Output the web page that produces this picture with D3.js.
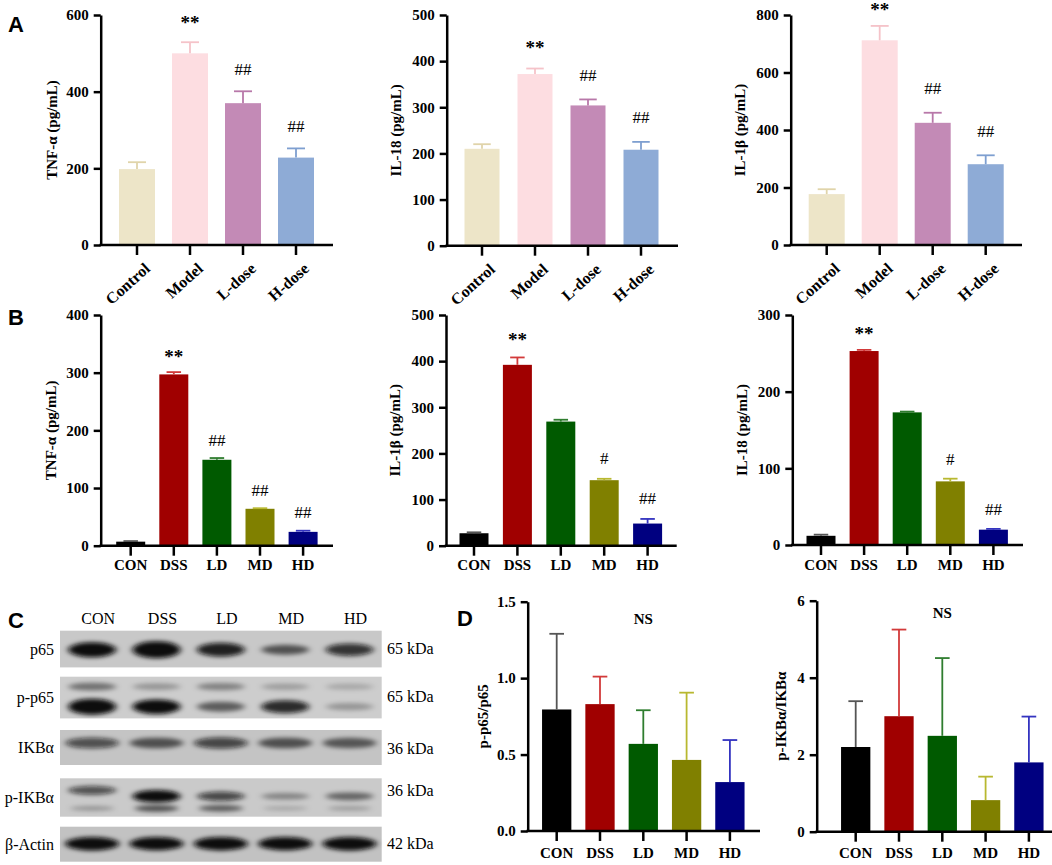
<!DOCTYPE html>
<meta charset="utf-8">
<head>
<style>
  body { margin: 0; background: #fff; }
  svg text { font-family: "Liberation Serif", "Times New Roman", serif; }
  .letter { font-family: "Liberation Sans", Arial, sans-serif !important; font-weight: bold; font-size: 22px; }
</style>
</head>
<script src="https://d3js.org/d3.v7.min.js"></script>
<div id="fig"></div>
<script>

// ---- panel A data
var groupsA = ["Control", "Model", "L-dose", "H-dose"];
var tnfA = [198, 500, 370, 228];
var tnfAErr = [216, 529, 401, 252];
var il18A = [210, 372, 304, 208];
var il18AErr = [220, 384, 317, 225];
var il1bA = [177, 712, 425, 281];
var il1bAErr = [194, 762, 460, 312];
var marksA = ["", "**", "##", "##"];
var colorsA = ["#ede5c8", "#fddde1", "#c38ab6", "#8eabd6"];
var errColorsA = ["#e0d4aa", "#f5c3c9", "#b878a9", "#7e9fd0"];

// ---- panel B data
var groupsB = ["CON", "DSS", "LD", "MD", "HD"];
var tnfB = [7, 297, 149, 64, 24];
var tnfBErr = [8, 301, 152, 65, 26];
var il1bB = [27, 392, 269, 142, 48];
var il1bBErr = [29, 408, 273, 145, 58];
var il18B = [12, 253, 173, 83, 20];
var il18BErr = [13.5, 254.5, 174, 86.5, 21];
var marksTnfB = ["", "**", "##", "##", "##"];
var marksIlB = ["", "**", "", "#", "##"];
var colorsB = ["#000000", "#a00000", "#005a00", "#808000", "#000080"];
var errColorsB = ["#555555", "#d23a3a", "#2f7d2f", "#b8b830", "#3434c0"];

// ---- panel C (western blot) band intensities per lane
var blotRows = ["p65", "p-p65", "IKBα", "p-IKBα", "β-Actin"];
var blotKDa = ["65 kDa", "65 kDa", "36 kDa", "36 kDa", "42 kDa"];
var p65Band = [0.85, 1.0, 0.75, 0.45, 0.65];
var pp65Upper = [0.3, 0.12, 0.22, 0.08, 0.03];
var pp65Lower = [1.0, 0.85, 0.4, 0.7, 0.12];
var ikbBand = [0.5, 0.45, 0.55, 0.45, 0.42];
var pikbUpper = [0.5, 0.95, 0.55, 0.2, 0.35];
var pikbLower = [0.12, 0.45, 0.4, 0.04, 0.08];
var actinBand = [0.95, 0.9, 0.92, 0.9, 0.95];

// ---- panel D data
var ppRatio = [0.795, 0.83, 0.57, 0.465, 0.32];
var ppRatioErr = [1.29, 1.01, 0.79, 0.905, 0.595];
var ikbRatio = [2.2, 3.0, 2.49, 0.82, 1.80];
var ikbRatioErr = [3.39, 5.25, 4.51, 1.43, 2.99];

var svg = d3.select("#fig").append("svg")
    .attr("width", 1052).attr("height", 865)
    .style("background", "#fff");

var defs = svg.append("defs");
defs.append("filter").attr("id", "blur").attr("x", "-50%").attr("y", "-100%").attr("width", "200%").attr("height", "300%")
  .append("feGaussianBlur").attr("stdDeviation", "3 2");

function barChart(o) {
  var n = o.cats.length;
  var pad = 1 - o.bw / o.step;
  var x = d3.scaleBand().domain(o.cats)
      .range([o.c0 - o.step / 2, o.c0 - o.step / 2 + n * o.step])
      .paddingInner(pad).paddingOuter(pad / 2);
  var y = d3.scaleLinear().domain([0, o.max]).range([o.y0, o.yTop]);
  var g = svg.append("g");
  var fs = o.fs || 15;

  // bars
  g.selectAll("rect").data(o.vals).join("rect")
    .attr("x", function(d, i) { return x(o.cats[i]); })
    .attr("width", x.bandwidth())
    .attr("y", function(d) { return y(d); })
    .attr("height", function(d) { return o.y0 - y(d); })
    .attr("fill", function(d, i) { return o.colors[i]; });

  // error bars (upper only)
  var cap = x.bandwidth() * 0.25;
  o.errs.forEach(function(e, i) {
    var cx = x(o.cats[i]) + x.bandwidth() / 2;
    g.append("line").attr("x1", cx).attr("x2", cx).attr("y1", y(o.vals[i])).attr("y2", y(e))
      .attr("stroke", o.errColors[i]).attr("stroke-width", 1.8);
    g.append("line").attr("x1", cx - cap).attr("x2", cx + cap).attr("y1", y(e)).attr("y2", y(e))
      .attr("stroke", o.errColors[i]).attr("stroke-width", 1.8);
  });

  // significance marks
  if (o.marks) {
    o.marks.forEach(function(m, i) {
      if (!m) return;
      var cx = x(o.cats[i]) + x.bandwidth() / 2;
      var star = m.indexOf("*") >= 0;
      var cy = Math.max(y(o.errs[i]) - o.gap, o.yTop - 8);
      g.append("text").attr("x", cx).attr("y", cy + (star ? 9 : 5.5))
        .attr("text-anchor", "middle")
        .style("font-size", star ? "19px" : "17px")
        .style("font-weight", star ? "bold" : "normal")
        .text(m);
    });
  }

  // y axis
  var ya = g.append("g").attr("transform", "translate(" + o.x0 + ",0)")
    .call(d3.axisLeft(y).tickValues(o.ticks).tickSize(7).tickSizeOuter(0).tickPadding(5)
      .tickFormat(o.fmt || d3.format("d")));
  // x axis
  var xa = g.append("g").attr("transform", "translate(0," + o.y0 + ")")
    .call(d3.axisBottom(x).tickSize(10).tickPadding(o.xpad || 4));
  xa.select(".domain").remove();
  g.append("line").attr("x1", o.x0 - 1.25).attr("x2", o.x1).attr("y1", o.y0).attr("y2", o.y0)
    .attr("stroke", "#000").attr("stroke-width", 2.5);

  [ya, xa].forEach(function(a) {
    a.attr("font-family", null).attr("font-size", null);
    a.selectAll("path, line").attr("stroke", "#000").attr("stroke-width", 2.5);
    a.selectAll("text").style("font-size", fs + "px").style("font-weight", "bold").attr("fill", "#000");
  });

  if (o.rotate) {
    xa.selectAll("text")
      .attr("x", 0).attr("y", 0).attr("dy", 0)
      .style("font-size", "16px")
      .attr("text-anchor", "end")
      .attr("transform", "translate(14,25) rotate(-42)");
  }

  // axis title
  var cyMid = (o.y0 + o.yTop) / 2;
  g.append("text")
    .attr("transform", "translate(" + o.titleX + "," + cyMid + ") rotate(-90)")
    .attr("text-anchor", "middle").attr("dy", "0.35em")
    .style("font-size", "15px").style("font-weight", "bold")
    .text(o.title);

  if (o.ns) {
    g.append("text").attr("x", x(o.cats[2]) + x.bandwidth() / 2).attr("y", o.yTop + o.ns)
      .attr("text-anchor", "middle").style("font-size", "15px").style("font-weight", "bold")
      .text("NS");
  }
}

// ---- row A
barChart({cats: groupsA, vals: tnfA, errs: tnfAErr, marks: marksA, colors: colorsA, errColors: errColorsA,
  x0: 100.7, x1: 333, yTop: 15, y0: 245, c0: 137, step: 53, bw: 36, max: 600, ticks: [0, 200, 400, 600],
  title: "TNF-α (pg/mL)", titleX: 52, gap: 22, rotate: true});
barChart({cats: groupsA, vals: il18A, errs: il18AErr, marks: marksA, colors: colorsA, errColors: errColorsA,
  x0: 446.7, x1: 678, yTop: 15, y0: 245.7, c0: 482, step: 53, bw: 35, max: 500, ticks: [0, 100, 200, 300, 400, 500],
  title: "IL-18 (pg/mL)", titleX: 396, gap: 24, rotate: true});
barChart({cats: groupsA, vals: il1bA, errs: il1bAErr, marks: marksA, colors: colorsA, errColors: errColorsA,
  x0: 790.7, x1: 1022, yTop: 15, y0: 245, c0: 826.7, step: 53, bw: 36, max: 800, ticks: [0, 200, 400, 600, 800],
  title: "IL-1β (pg/mL)", titleX: 740, gap: 24, rotate: true});

// ---- row B
barChart({cats: groupsB, vals: tnfB, errs: tnfBErr, marks: marksTnfB, colors: colorsB, errColors: errColorsB,
  x0: 100.7, x1: 333, yTop: 315, y0: 545.7, c0: 130.7, step: 43.1, bw: 29, max: 400, ticks: [0, 100, 200, 300, 400],
  title: "TNF-α (pg/mL)", titleX: 51, gap: 18});
barChart({cats: groupsB, vals: il1bB, errs: il1bBErr, marks: marksIlB, colors: colorsB, errColors: errColorsB,
  x0: 446, x1: 676.7, yTop: 315, y0: 545.7, c0: 474, step: 43.4, bw: 29, max: 500, ticks: [0, 100, 200, 300, 400, 500],
  title: "IL-1β (pg/mL)", titleX: 395, gap: 20});
barChart({cats: groupsB, vals: il18B, errs: il18BErr, marks: marksIlB, colors: colorsB, errColors: errColorsB,
  x0: 792.3, x1: 1023, yTop: 315, y0: 545, c0: 821, step: 43.1, bw: 29, max: 300, ticks: [0, 100, 200, 300],
  title: "IL-18 (pg/mL)", titleX: 742, gap: 19});

// ---- row D
barChart({cats: groupsB, vals: ppRatio, errs: ppRatioErr, colors: colorsB, errColors: errColorsB,
  x0: 527.7, x1: 760, yTop: 601.7, y0: 831, c0: 556.7, step: 43.3, bw: 29.3, max: 1.5, ticks: [0, 0.5, 1, 1.5],
  fmt: d3.format(".1f"), xpad: 6, title: "p-p65/p65", titleX: 483, ns: 22});
barChart({cats: groupsB, vals: ikbRatio, errs: ikbRatioErr, colors: colorsB, errColors: errColorsB,
  x0: 816.7, x1: 1052, yTop: 600.7, y0: 831.7, c0: 855.7, step: 43.3, bw: 29.3, max: 6, ticks: [0, 2, 4, 6],
  xpad: 6, title: "p-IKBα/IKBα", titleX: 781, ns: 17});

// ---- panel C: blot
var lane = d3.scaleBand().domain(groupsB).range([60, 381.7]);
var rowTop = [630.7, 676.7, 730, 778.3, 826.7];
var rowH = [36.7, 41.7, 35, 38.4, 35];
var rowFill = ["#c8c8c8", "#cdcdcd", "#c4c4c4", "#cacaca", "#c2c2c2"];
var blot = svg.append("g");

blot.selectAll("rect.strip").data(blotRows).join("rect").attr("class", "strip")
  .attr("x", 60).attr("width", 321.7)
  .attr("y", function(d, i) { return rowTop[i]; })
  .attr("height", function(d, i) { return rowH[i]; })
  .attr("fill", function(d, i) { return rowFill[i]; });

function bands(vals, row, offs, rx, minRy, spanRy) {
  blot.append("g").attr("filter", "url(#blur)")
    .selectAll("ellipse").data(vals).join("ellipse")
    .attr("cx", function(d, i) { return lane(groupsB[i]) + lane.bandwidth() / 2; })
    .attr("cy", function(d, i) { return rowTop[row] + (typeof offs === "number" ? offs : offs[i]); })
    .attr("rx", rx)
    .attr("ry", function(d) { return minRy + spanRy * d; })
    .attr("fill", "#0a0a0a")
    .attr("opacity", function(d) { return Math.min(1, 0.15 + d); });
}
bands(p65Band, 0, 19, 24, 2, 6.5);
bands(pp65Upper, 1, 10, 24, 3, 3);
bands(pp65Lower, 1, 30, 24, 3, 5);
bands(ikbBand, 2, 13, 27, 4, 3);
bands(pikbUpper, 3, [12, 18, 18, 18, 18], 24, 2.5, 4);
bands(pikbLower, 3, 30, 22, 2, 3);
bands(actinBand, 4, 17, 27, 3, 4);

blot.selectAll("text.lane").data(groupsB).join("text").attr("class", "lane")
  .attr("x", function(d) { return lane(d) + lane.bandwidth() / 2 + 6; })
  .attr("y", 624).attr("text-anchor", "middle").style("font-size", "16px")
  .text(function(d) { return d; });
blot.selectAll("text.row").data(blotRows).join("text").attr("class", "row")
  .attr("x", 54).attr("y", function(d, i) { return rowTop[i] + rowH[i] / 2; })
  .attr("dy", "0.35em").attr("text-anchor", "end").style("font-size", "16px")
  .text(function(d) { return d; });
var kdaY = [648.3, 696.7, 748.3, 790.7, 843.3];
blot.selectAll("text.kda").data(blotKDa).join("text").attr("class", "kda")
  .attr("x", 387).attr("y", function(d, i) { return kdaY[i]; })
  .attr("dy", "0.35em").style("font-size", "16px")
  .text(function(d) { return d; });

// ---- panel letters
var letters = [["A", 8, 32], ["B", 8, 325], ["C", 8, 628], ["D", 457, 626]];
svg.selectAll("text.letter").data(letters).join("text").attr("class", "letter")
  .attr("x", function(d) { return d[1]; }).attr("y", function(d) { return d[2]; })
  .text(function(d) { return d[0]; });

</script>
